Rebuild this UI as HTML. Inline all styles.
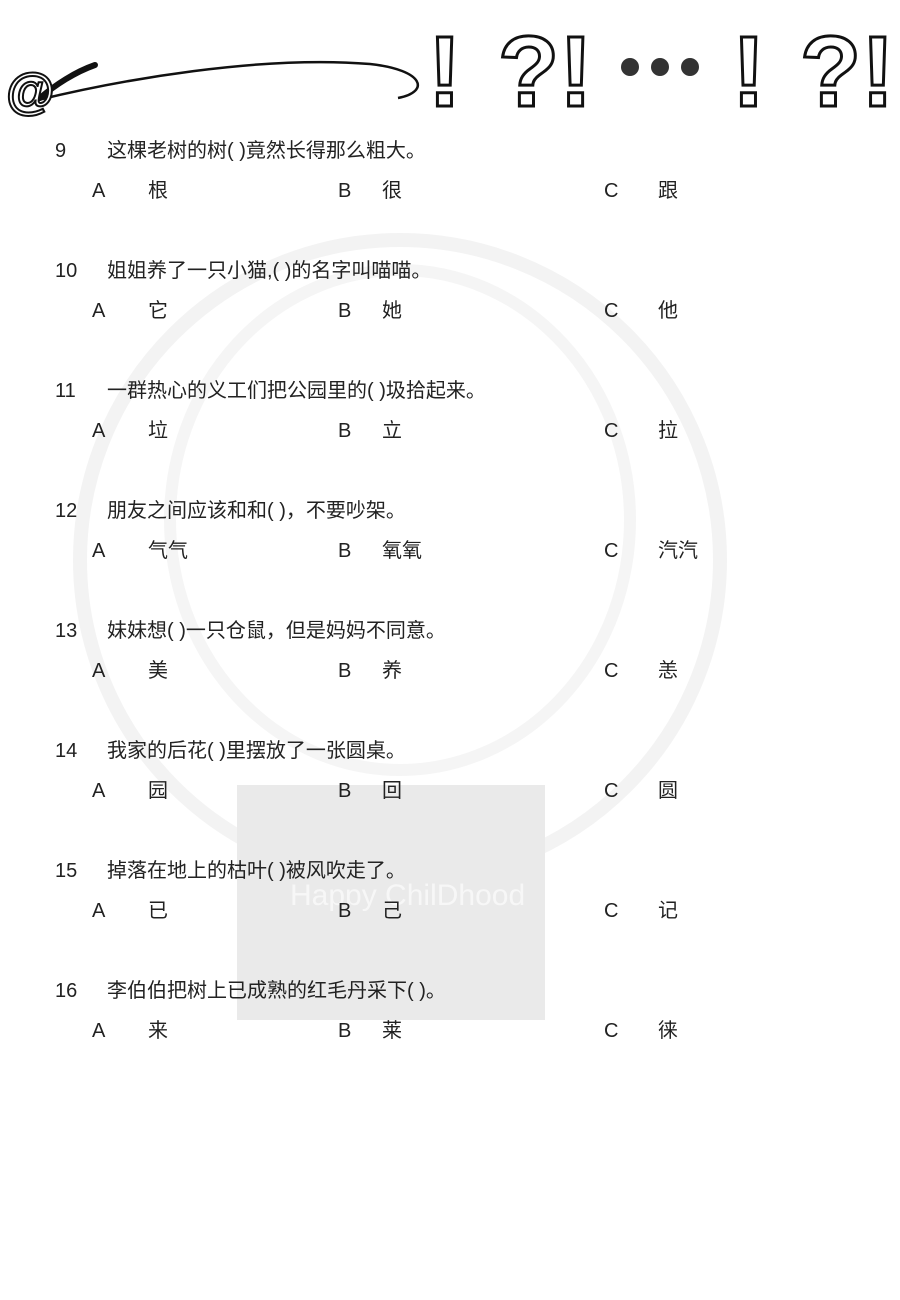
<!DOCTYPE html>
<html><head><meta charset="utf-8"><style>
body{margin:0;width:900px;height:1300px;background:#fff;position:relative;overflow:hidden;font-family:"Liberation Sans","Noto Sans CJK SC",sans-serif;color:#222;}
.t{position:absolute;font-size:20px;line-height:24px;white-space:nowrap;}
</style></head><body>
<svg width="900" height="1300" style="position:absolute;left:0;top:0">
<circle cx="400" cy="560" r="320" fill="none" stroke="#f3f3f3" stroke-width="14"/>
<ellipse cx="400" cy="520" rx="230" ry="250" fill="none" stroke="#f5f5f5" stroke-width="12"/>
<rect x="237" y="785" width="308" height="235" fill="#eaeaea"/>
<text x="290" y="905" font-size="30" fill="#f7f7f7" font-family="Liberation Sans">Happy ChilDhood</text>
<path d="M38 100 C 120 80, 260 55, 370 64 C 425 70, 430 92, 398 98" fill="none" stroke="#111" stroke-width="2.5"/>
<path d="M40 98 C 55 85, 75 72, 95 65" fill="none" stroke="#111" stroke-width="6" stroke-linecap="round"/>
<text x="6" y="108" font-size="50" font-family="Liberation Sans" font-weight="bold" fill="#fff" stroke="#111" stroke-width="2">@</text>
<g font-family="Liberation Sans" font-weight="bold" font-size="100" fill="#fff" stroke="#111" stroke-width="3">
<text x="428" y="106">!</text>
<text x="498" y="106">?!</text>
<text x="732" y="106">!</text>
<text x="800" y="106">?!</text>
</g>
<circle cx="630" cy="67" r="9" fill="#333"/><circle cx="660" cy="67" r="9" fill="#333"/><circle cx="690" cy="67" r="9" fill="#333"/>
</svg>
<div class="t" style="left:55px;top:139px">9</div><div class="t" style="left:107px;top:139px">这棵老树的树( )竟然长得那么粗大。</div>
<div class="t" style="left:92px;top:179px">A</div><div class="t" style="left:148px;top:179px">根</div><div class="t" style="left:338px;top:179px">B</div><div class="t" style="left:382px;top:179px">很</div><div class="t" style="left:604px;top:179px">C</div><div class="t" style="left:658px;top:179px">跟</div>

<div class="t" style="left:55px;top:259px">10</div><div class="t" style="left:107px;top:259px">姐姐养了一只小猫,( )的名字叫喵喵。</div>
<div class="t" style="left:92px;top:299px">A</div><div class="t" style="left:148px;top:299px">它</div><div class="t" style="left:338px;top:299px">B</div><div class="t" style="left:382px;top:299px">她</div><div class="t" style="left:604px;top:299px">C</div><div class="t" style="left:658px;top:299px">他</div>

<div class="t" style="left:55px;top:379px">11</div><div class="t" style="left:107px;top:379px">一群热心的义工们把公园里的( )圾拾起来。</div>
<div class="t" style="left:92px;top:419px">A</div><div class="t" style="left:148px;top:419px">垃</div><div class="t" style="left:338px;top:419px">B</div><div class="t" style="left:382px;top:419px">立</div><div class="t" style="left:604px;top:419px">C</div><div class="t" style="left:658px;top:419px">拉</div>

<div class="t" style="left:55px;top:499px">12</div><div class="t" style="left:107px;top:499px">朋友之间应该和和( )，不要吵架。</div>
<div class="t" style="left:92px;top:539px">A</div><div class="t" style="left:148px;top:539px">气气</div><div class="t" style="left:338px;top:539px">B</div><div class="t" style="left:382px;top:539px">氧氧</div><div class="t" style="left:604px;top:539px">C</div><div class="t" style="left:658px;top:539px">汽汽</div>

<div class="t" style="left:55px;top:619px">13</div><div class="t" style="left:107px;top:619px">妹妹想( )一只仓鼠，但是妈妈不同意。</div>
<div class="t" style="left:92px;top:659px">A</div><div class="t" style="left:148px;top:659px">美</div><div class="t" style="left:338px;top:659px">B</div><div class="t" style="left:382px;top:659px">养</div><div class="t" style="left:604px;top:659px">C</div><div class="t" style="left:658px;top:659px">恙</div>

<div class="t" style="left:55px;top:739px">14</div><div class="t" style="left:107px;top:739px">我家的后花( )里摆放了一张圆桌。</div>
<div class="t" style="left:92px;top:779px">A</div><div class="t" style="left:148px;top:779px">园</div><div class="t" style="left:338px;top:779px">B</div><div class="t" style="left:382px;top:779px">回</div><div class="t" style="left:604px;top:779px">C</div><div class="t" style="left:658px;top:779px">圆</div>

<div class="t" style="left:55px;top:859px">15</div><div class="t" style="left:107px;top:859px">掉落在地上的枯叶( )被风吹走了。</div>
<div class="t" style="left:92px;top:899px">A</div><div class="t" style="left:148px;top:899px">已</div><div class="t" style="left:338px;top:899px">B</div><div class="t" style="left:382px;top:899px">己</div><div class="t" style="left:604px;top:899px">C</div><div class="t" style="left:658px;top:899px">记</div>

<div class="t" style="left:55px;top:979px">16</div><div class="t" style="left:107px;top:979px">李伯伯把树上已成熟的红毛丹采下( )。</div>
<div class="t" style="left:92px;top:1019px">A</div><div class="t" style="left:148px;top:1019px">来</div><div class="t" style="left:338px;top:1019px">B</div><div class="t" style="left:382px;top:1019px">莱</div><div class="t" style="left:604px;top:1019px">C</div><div class="t" style="left:658px;top:1019px">徕</div>
</body></html>
